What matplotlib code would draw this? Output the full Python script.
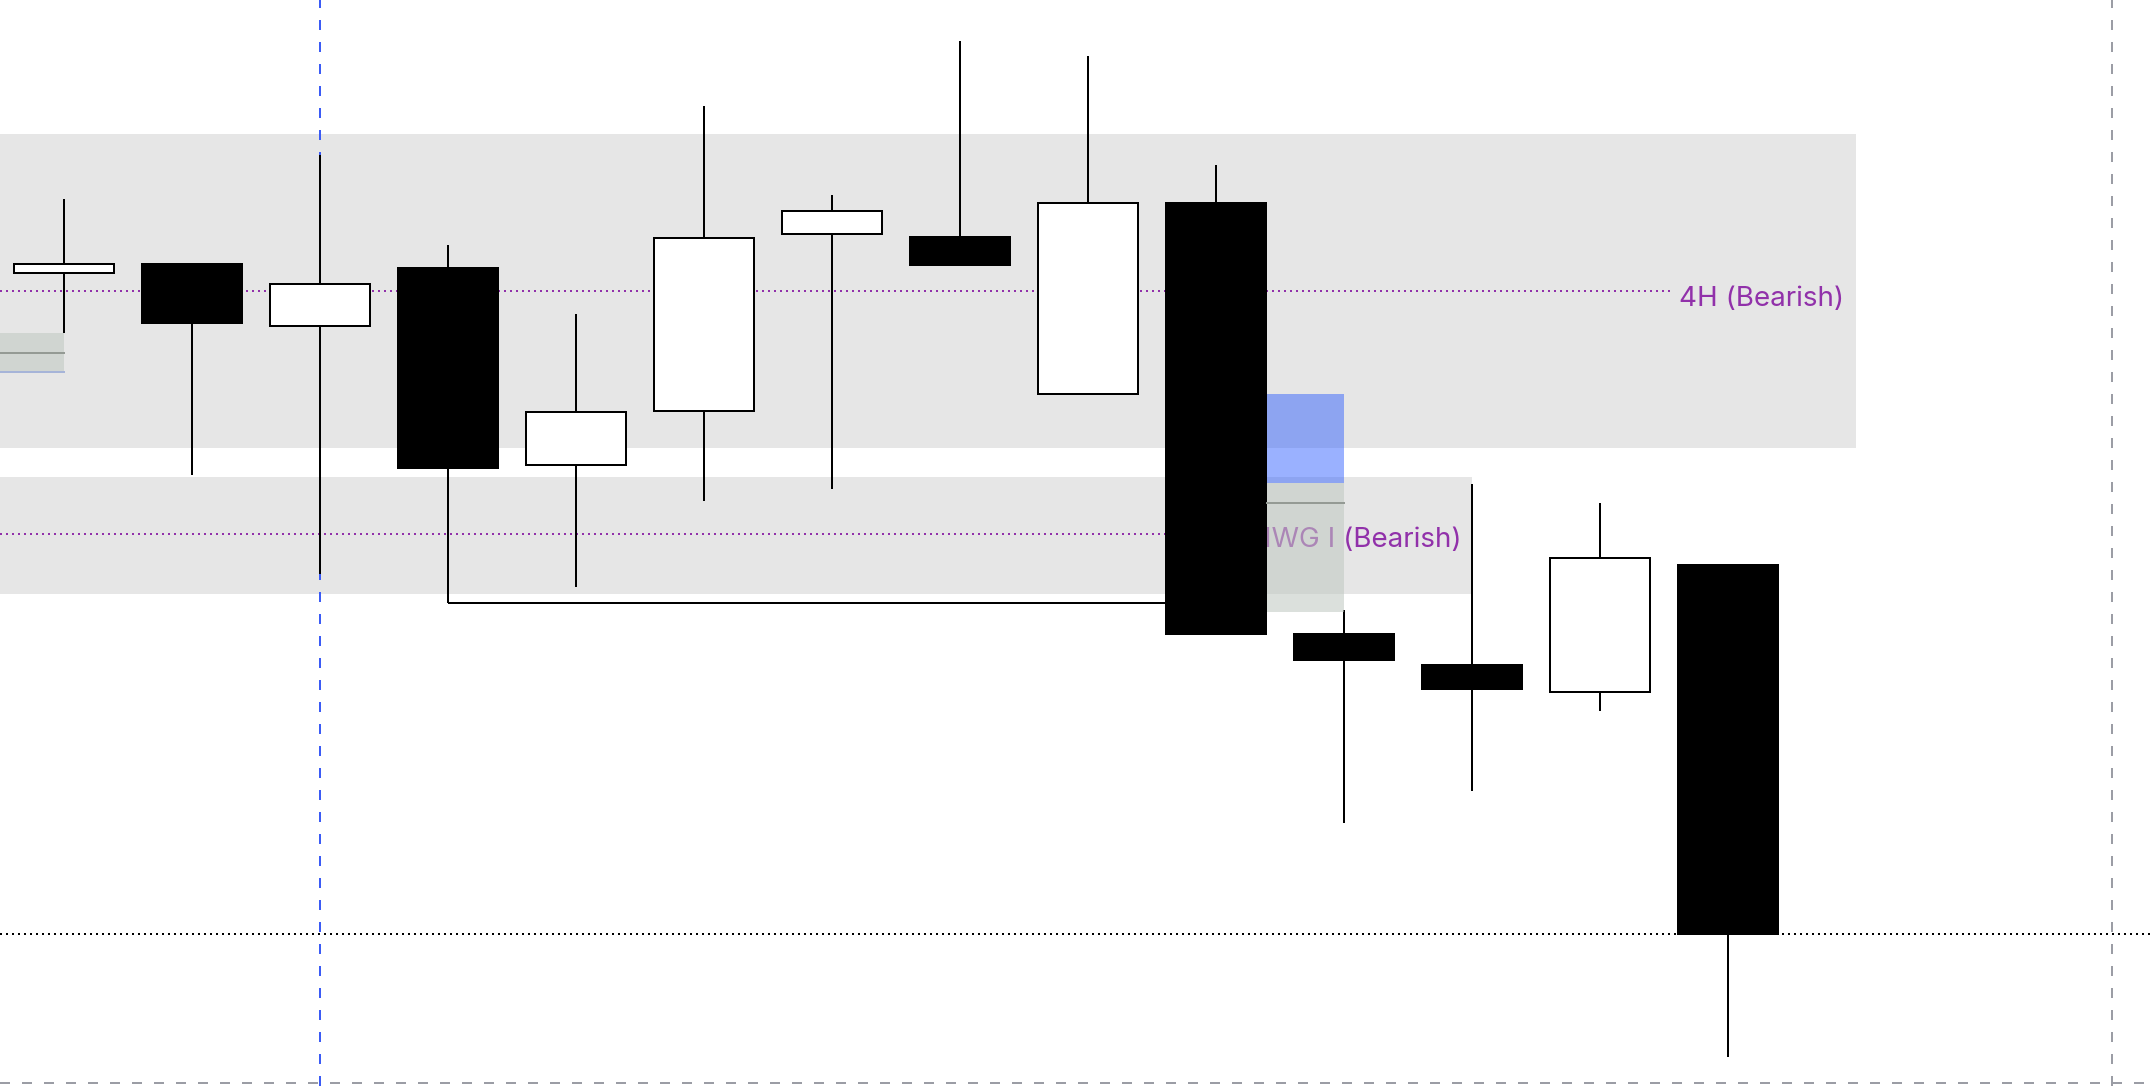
import matplotlib
matplotlib.use("Agg")
import matplotlib.pyplot as plt
from matplotlib.patches import Rectangle

# ---- data (price units) ----
idx    = list(range(14))
opens  = [81.3, 82.2, 76.0, 81.8, 62.1, 67.5, 85.2, 84.9, 69.2, 88.3, 45.2, 42.1, 39.4, 52.1]
closes = [82.2, 76.3, 80.2, 61.8, 67.4, 84.8, 87.5, 82.1, 88.3, 45.2, 42.6, 39.7, 52.8, 15.2]
highs  = [88.7, 82.2, 93.1, 84.1, 77.2, 98.0, 89.1, 104.5, 103.0, 92.1, 47.6, 60.2, 58.3, 52.1]
lows   = [75.3, 61.1, 51.2, 48.3, 49.9, 58.5, 59.7, 82.1, 69.2, 45.2, 26.3, 29.5, 37.5, 2.9]

zone_names = ["4H (Bearish)", "1H IWG I (Bearish)"]
zone_top   = [95.2, 60.9]
zone_bot   = [63.8, 49.2]
zone_mid   = [79.5, 55.2]
zone_end   = [14.0, 11.0]
label_x    = [13.91, 10.92]
label_base = [78.0, 53.9]
line_end   = [12.56, 9.0]

liq_level  = 48.3          # low of candle 3
liq_from, liq_to = 3, 9
close_level = 15.2         # dotted level
blue_vline = 2
gray_vline = 16

fvg_blue  = (9.4, 10.0, 69.2, 60.3)
box_right = (9.4, 10.0, 60.3, 47.4, 58.3)
box_left  = (-0.5, 0.0, 75.3, 71.3, 73.3)

W, H, DPI = 2154, 1086, 100
fig = plt.figure(figsize=(W / DPI, H / DPI), dpi=DPI)
ax = fig.add_axes([0, 0, 1, 1])
ax.set_xlim(-0.5, 16.328)
ax.set_ylim(0, 108.6)
ax.axis("off")

px = 72 / DPI  # points per pixel
lw = 2 * px

purple = "#9131aa"
zone_gray = "#e6e6e6"

# zones
for t, b, e, m, name, lx, lb, le in zip(zone_top, zone_bot, zone_end, zone_mid, zone_names,
                                        label_x, label_base, line_end):
    ax.add_patch(Rectangle((-0.5, b), e + 0.5, t - b, facecolor=zone_gray, edgecolor="none", zorder=1))
    ax.plot([-0.5, le], [m, m], color=purple, lw=lw, linestyle=(0, (1, 2)), zorder=2)
    ax.text(lx, lb, name, color=purple, ha="right", va="baseline", fontsize=20,
            family=["Inter", "DejaVu Sans"], zorder=3)

# vertical / horizontal reference lines
ax.axvline(blue_vline, color="#3b5bf5", lw=lw, linestyle=(0, (5, 6)), zorder=2.5)
ax.axvline(gray_vline, color="#9b9da5", lw=lw, linestyle=(0, (5, 6)), zorder=2.5)
ax.axhline(0.27, color="#9b9da5", lw=lw, linestyle=(0, (5, 6)), zorder=2.5)
ax.axhline(close_level, color="black", lw=lw, linestyle=(0, (1, 2)), zorder=2.5)

# liquidity line from candle 3 low
ax.plot([liq_from, liq_to - 0.39], [liq_level, liq_level], color="black", lw=lw,
        solid_capstyle="butt", zorder=4)

# candles
bw = 0.78
for i, o, c, h, l in zip(idx, opens, closes, highs, lows):
    ax.plot([i, i], [l, h], color="black", lw=lw, solid_capstyle="butt", zorder=4.5)
    bull = c >= o
    ax.add_patch(Rectangle((i - bw / 2, min(o, c)), bw, abs(c - o),
                           facecolor="white" if bull else "black", edgecolor="black",
                           lw=lw, zorder=5))

# overlay boxes
green = "#c0c9c1"
x0, x1, t, b = fvg_blue
ax.add_patch(Rectangle((x0, b), x1 - x0, t - b, facecolor="#2d5cff", alpha=0.48,
                       edgecolor="none", zorder=6))
x0, x1, t, b, m = box_right
ax.add_patch(Rectangle((x0, b), x1 - x0, t - b, facecolor=green, alpha=0.56,
                       edgecolor="none", zorder=6))
ax.plot([x0, x1], [m, m], color="#949a94", lw=lw, zorder=6.5)
x0, x1, t, b, m = box_left
ax.add_patch(Rectangle((x0, b), x1 - x0, t - b, facecolor=green, alpha=0.56,
                       edgecolor="none", zorder=6))
ax.plot([x0, x1], [m, m], color="#949a94", lw=lw, zorder=6.5)
ax.plot([x0, x1], [b + 0.1, b + 0.1], color="#a6b4d8", lw=lw, zorder=6.5)

fig.savefig("out.png", dpi=DPI, facecolor="white")
